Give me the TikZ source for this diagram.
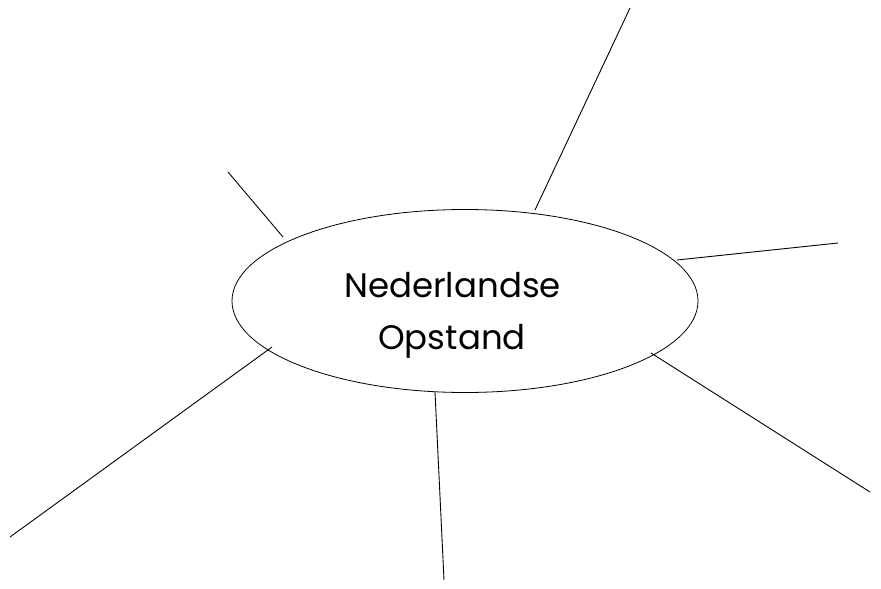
\documentclass[tikz,border=0pt]{standalone}
\usepackage{fontspec}
\setmainfont{Poppins}
\usetikzlibrary{shapes.geometric}
\begin{document}
\begin{tikzpicture}[x=1pt,y=-1pt,
  spoke/.style={draw=black,line width=0.9pt},
  hub/.style={draw=black,line width=0.8pt,ellipse,minimum width=466pt,minimum height=183pt,inner sep=0pt},
  label text/.style={anchor=base,inner sep=0pt,font=\fontsize{34}{40}\selectfont}]
\useasboundingbox[fill=white] (0,0) rectangle (881,589);
\node[hub] (e) at (465,301) {};
\node[label text] (t1) at (452.5,297) {Nederlandse};
\node[label text] (t2) at (452,349) {Opstand};
\coordinate (a1) at (535,210); \coordinate (b1) at (630,8);
\coordinate (a2) at (677,260); \coordinate (b2) at (838,243);
\coordinate (a3) at (651,353); \coordinate (b3) at (870,492);
\coordinate (a4) at (435,392); \coordinate (b4) at (444,580);
\coordinate (a5) at (272,347); \coordinate (b5) at (10,537);
\coordinate (a6) at (283,237); \coordinate (b6) at (228,172);
\foreach \i in {1,...,6} \draw[spoke] (a\i) -- (b\i);
\end{tikzpicture}
\end{document}
